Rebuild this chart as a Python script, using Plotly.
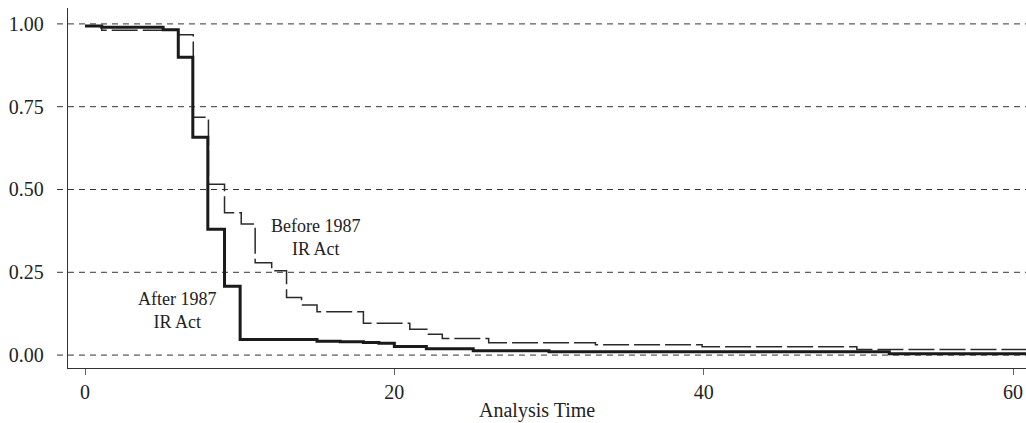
import plotly.graph_objects as go

# Kaplan-Meier style step data
after_t = [0, 1.08, 5.05, 6.03, 6.97, 7.94, 9.02, 10.03, 15.0, 16.5, 18.0, 19.0, 20.0, 22.07, 25.1, 30.0, 52.0, 61.0]
after_s = [0.994, 0.990, 0.982, 0.899, 0.658, 0.380, 0.208, 0.047, 0.042, 0.040, 0.038, 0.036, 0.026, 0.019, 0.013, 0.010, 0.004, 0.004]

before_t = [0, 1.08, 6.03, 7.0, 7.98, 9.02, 10.1, 11.0, 12.07, 13.03, 14.0, 15.0, 18.0, 21.0, 22.1, 23.1, 26.1, 33.0, 39.9, 49.9, 61.0]
before_s = [0.994, 0.981, 0.967, 0.718, 0.516, 0.430, 0.396, 0.279, 0.255, 0.174, 0.151, 0.131, 0.096, 0.078, 0.063, 0.050, 0.037, 0.031, 0.025, 0.017, 0.017]

x_ticks = [0, 20, 40, 60]
y_ticks = [0.0, 0.25, 0.5, 0.75, 1.0]
y_labels = ["0.00", "0.25", "0.50", "0.75", "1.00"]

FONT = "Liberation Serif, Times New Roman, serif"

fig = go.Figure()
fig.add_trace(go.Scatter(x=before_t, y=before_s, mode="lines", line_shape="hv",
                         line=dict(color="#2a2a2a", width=1.5, dash="26px,5px"),
                         name="Before 1987 IR Act", showlegend=False))
fig.add_trace(go.Scatter(x=after_t, y=after_s, mode="lines", line_shape="hv",
                         line=dict(color="#1a1a1a", width=3),
                         name="After 1987 IR Act", showlegend=False))

shapes = []
for yv in y_ticks:
    shapes.append(dict(type="line", xref="paper", yref="y", x0=-0.0115, x1=1.0, y0=yv, y1=yv,
                       line=dict(color="#333333", width=1, dash="6px,5px"), layer="below"))

fig.update_layout(
    width=1026, height=423,
    margin=dict(l=68, r=0, t=8, b=55),
    paper_bgcolor="white", plot_bgcolor="white",
    font=dict(family=FONT, size=20, color="#222222"),
    showlegend=False,
    shapes=shapes,
    annotations=[
        dict(x=14.93, y=0.356, xref="x", yref="y", text="Before 1987<br>IR Act", showarrow=False,
             font=dict(family=FONT, size=18, color="#222222"), align="center"),
        dict(x=5.93, y=0.134, xref="x", yref="y", text="After 1987<br>IR Act", showarrow=False,
             font=dict(family=FONT, size=18, color="#222222"), align="center"),
        dict(x=0.4896, y=-0.117, xref="paper", yref="paper", text="Analysis Time", showarrow=False,
             font=dict(family=FONT, size=20, color="#222222"), yanchor="middle"),
    ],
)
fig.update_xaxes(range=[-1.10, 60.84], tickvals=x_ticks, ticktext=[str(v) for v in x_ticks],
                 showgrid=False, zeroline=False, showline=True, linecolor="#333333", linewidth=1.3,
                 ticks="outside", ticklen=6, tickcolor="#666666", tickwidth=1)
fig.update_yaxes(range=[-0.039, 1.048], tickvals=y_ticks, ticktext=y_labels,
                 showgrid=False, zeroline=False, showline=True, linecolor="#333333", linewidth=1.3,
                 ticks="", ticklabelstandoff=19)

fig.write_html("out.html",
               config={"displayModeBar": False},
               post_script="document.body.style.margin='0';document.body.style.overflow='hidden';")
